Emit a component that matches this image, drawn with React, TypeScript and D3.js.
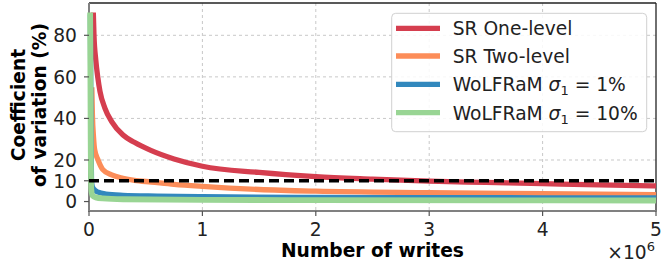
import React from 'react';
import * as d3 from 'd3';

// x values in millions of writes, y values in %
const srOneX = [0.038, 0.044, 0.06, 0.077, 0.097, 0.14, 0.2, 0.3, 0.4, 0.55, 0.75, 1.0, 1.5, 2.0, 2.5, 3.0, 3.5, 4.0, 4.5, 5.0];
const srOneY = [91, 80, 68, 60, 53, 45, 38.5, 32, 28.5, 24.5, 20.5, 17, 14, 12, 10.8, 9.8, 9.2, 8.6, 8.0, 7.5];

const srTwoX = [0.025, 0.03, 0.04, 0.05, 0.08, 0.12, 0.2, 0.3, 0.4, 0.55, 0.75, 1.0, 1.5, 2.0, 3.0, 4.0, 5.0];
const srTwoY = [55, 42, 31, 25, 20, 15.5, 12.8, 11.2, 10.2, 9.4, 8.3, 7.3, 5.8, 5.0, 4.3, 3.8, 3.3];

const wolf1X = [0.012, 0.018, 0.022, 0.03, 0.05, 0.08, 0.15, 0.3, 0.6, 1.0, 2.0, 3.0, 5.0];
const wolf1Y = [90, 30, 10, 7, 5.5, 4.5, 3.6, 3.0, 2.6, 2.3, 2.0, 1.9, 1.7];

const wolf10X = [0.01, 0.015, 0.02, 0.03, 0.06, 0.12, 0.3, 1.0, 2.0, 5.0];
const wolf10Y = [91, 30, 6, 3, 2, 1.5, 1.1, 0.8, 0.7, 0.5];

const thresholdValue = 10;

const xTicks = [0, 1, 2, 3, 4, 5];
const yTicks = [0, 10, 20, 40, 60, 80];
const yGrid = [20, 40, 60, 80];

const series = [
  { name: 'SR One-level', xs: srOneX, ys: srOneY, color: '#d53e4f' },
  { name: 'SR Two-level', xs: srTwoX, ys: srTwoY, color: '#fc8d59' },
  { name: 'WoLFRaM', sigma: '1%', xs: wolf1X, ys: wolf1Y, color: '#3288bd' },
  { name: 'WoLFRaM', sigma: '10%', xs: wolf10X, ys: wolf10Y, color: '#99d594' },
];

const W = 661;
const H = 264;
const left = 89, right = 656, top = 3, bottom = 211;
const font = 'DejaVu Sans, sans-serif';
const fs = 18.67;

const App = () => {
  const x = d3.scaleLinear().domain([0, 5]).range([left, right]);
  const y = d3.scaleLinear().domain([-4.55, 95.55]).range([bottom, top]);

  const line = d3.line<[number, number]>()
    .x(d => x(d[0]))
    .y(d => y(d[1]))
    .curve(d3.curveMonotoneX);

  const legendX = 391.7, legendY = 13.3, legendW = 255, legendH = 118.4;
  const rowYs = [28.3, 56, 84.3, 112.7];

  return (
    <svg width={W} height={H} style={{ position: 'absolute', left: 0, top: 0 }} fontFamily={font}>
      <rect x={0} y={0} width={W} height={H} fill="#fff" />

      {/* grid */}
      {yGrid.map(v => (
        <line key={'gy' + v} x1={left} x2={right} y1={y(v)} y2={y(v)}
          stroke="#c8c8c8" strokeWidth={1} strokeDasharray="3,3" />
      ))}
      {xTicks.slice(1, 5).map(v => (
        <line key={'gx' + v} x1={x(v)} x2={x(v)} y1={top} y2={bottom}
          stroke="#c8c8c8" strokeWidth={1} strokeDasharray="3,3" />
      ))}

      {/* spines */}
      <line x1={left} x2={right} y1={top} y2={top} stroke="#222" strokeWidth={1.3} />
      <line x1={right} x2={right} y1={top} y2={bottom} stroke="#222" strokeWidth={1.3} />
      <line x1={left} x2={left} y1={top} y2={bottom} stroke="#808080" strokeWidth={2} />
      <line x1={left - 1} x2={right + 0.6} y1={bottom} y2={bottom} stroke="#808080" strokeWidth={2} />

      {/* curves */}
      {series.map((s, i) => (
        <path key={i}
          d={line(s.xs.map((xv, j) => [xv, s.ys[j]] as [number, number])) || ''}
          fill="none" stroke={s.color} strokeWidth={i === 3 ? 5.8 : 5.3}
          strokeLinejoin="round" />
      ))}

      {/* 10% threshold */}
      <line x1={x(0)} x2={right} y1={y(thresholdValue)} y2={y(thresholdValue)}
        stroke="#000" strokeWidth={3.5} strokeDasharray="10,5" />

      {/* y ticks */}
      {yTicks.map(v => (
        <g key={'yt' + v}>
          <line x1={left - 5} x2={left} y1={y(v)} y2={y(v)} stroke="#555" strokeWidth={1.2} />
          <text x={77} y={y(v) + 6.8} textAnchor="end" fontSize={fs} fill="#222">{v}</text>
        </g>
      ))}

      {/* x ticks */}
      {xTicks.map(v => (
        <g key={'xt' + v}>
          <line x1={x(v)} x2={x(v)} y1={bottom} y2={bottom + 5} stroke="#555" strokeWidth={1.2} />
          <text x={x(v)} y={236} textAnchor="middle" fontSize={fs} fill="#222">{v}</text>
        </g>
      ))}

      {/* offset text */}
      <text x={655} y={259} textAnchor="end" fontSize={fs} fill="#222">
        ×10<tspan dy={-8} fontSize={13}>6</tspan>
      </text>

      {/* axis labels */}
      <text x={372.5} y={257} textAnchor="middle" fontSize={fs} fontWeight="bold" fill="#000">Number of writes</text>
      <text transform="translate(25,105) rotate(-90)" textAnchor="middle" fontSize={fs} fontWeight="bold" fill="#000">Coefficient</text>
      <text transform="translate(45.5,105) rotate(-90)" textAnchor="middle" fontSize={fs} fontWeight="bold" fill="#000">of variation (%)</text>

      {/* legend */}
      <rect x={legendX} y={legendY} width={legendW} height={legendH} rx={4}
        fill="#fff" fillOpacity={0.85} stroke="#d0d0d0" strokeWidth={1} />
      {series.map((s, i) => (
        <g key={'lg' + i}>
          <line x1={396} x2={440} y1={rowYs[i]} y2={rowYs[i]} stroke={s.color} strokeWidth={5.3} />
          <text x={452.7} y={rowYs[i] + 6.8} fontSize={fs} fill="#222">
            {s.name}
            {s.sigma && (
              <>
                <tspan> </tspan>
                <tspan fontStyle="italic">σ</tspan>
                <tspan fontSize={13} dy={4}>1</tspan>
                <tspan dy={-4}> = {s.sigma}</tspan>
              </>
            )}
          </text>
        </g>
      ))}
    </svg>
  );
};

export default App;
